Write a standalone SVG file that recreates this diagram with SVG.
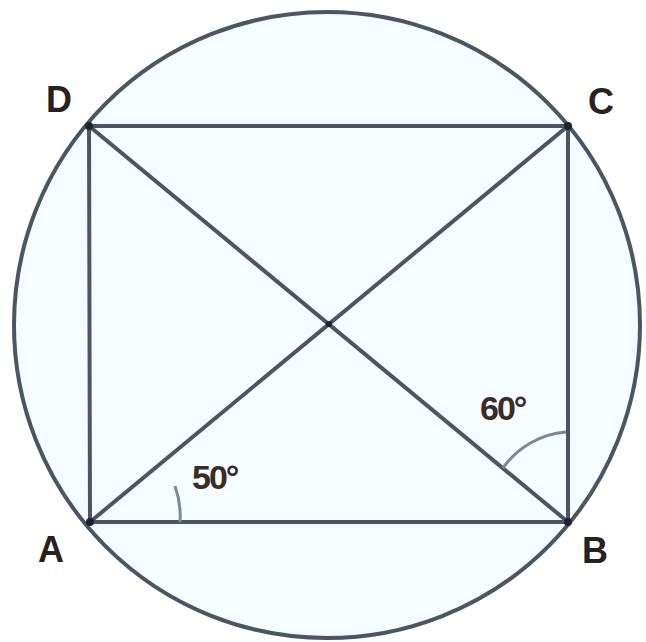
<svg xmlns="http://www.w3.org/2000/svg" width="646" height="642" viewBox="0 0 646 642">
<style>
.ln{stroke:#4b5660;stroke-width:4;fill:none;stroke-linecap:round}
.thin{stroke:#7a8a90;stroke-width:3;fill:none}
.lbl{font-family:"Liberation Sans",Arial,sans-serif;font-size:36px;font-weight:bold;fill:#2a2020}
.ang{font-family:"Liberation Sans",Arial,sans-serif;font-size:34px;font-weight:bold;fill:#3a2c28;letter-spacing:-2px}
</style>
<rect width="646" height="642" fill="#fff"/>
<g id="circle"><circle cx="327" cy="325" r="313" fill="#f4fcff" stroke="#4b5660" stroke-width="4"/></g>
<g id="connectors">
<line class="ln" x1="89" y1="126" x2="568" y2="126"/>
<line class="ln" x1="89" y1="126" x2="90" y2="522"/>
<line class="ln" x1="568" y1="126" x2="568" y2="522"/>
<line class="ln" x1="90" y1="522" x2="568" y2="522"/>
<line class="ln" x1="90" y1="522" x2="568" y2="126"/>
<line class="ln" x1="89" y1="126" x2="568" y2="522"/>
<path class="thin" d="M 180 522 A 90 90 0 0 0 175 486"/>
<path class="thin" d="M 503 468 A 85 85 0 0 1 566 432"/>
</g>
<g id="D"><circle cx="89" cy="126" r="4" fill="#1a2530"/><text class="lbl" x="46" y="112">D</text></g>
<g id="C"><circle cx="568" cy="126" r="4" fill="#1a2530"/><text class="lbl" x="588" y="114">C</text></g>
<g id="A"><circle cx="90" cy="522" r="4" fill="#1a2530"/><text class="lbl" x="38" y="562">A</text></g>
<g id="B"><circle cx="568" cy="522" r="4" fill="#1a2530"/><text class="lbl" x="582" y="563">B</text></g>
<g id="O"><circle cx="329" cy="324" r="3" fill="#1a2530"/></g>
<g id="angle50"><text class="ang" x="192" y="489">50°</text></g>
<g id="angle60"><text class="ang" x="480" y="420">60°</text></g>
</svg>
